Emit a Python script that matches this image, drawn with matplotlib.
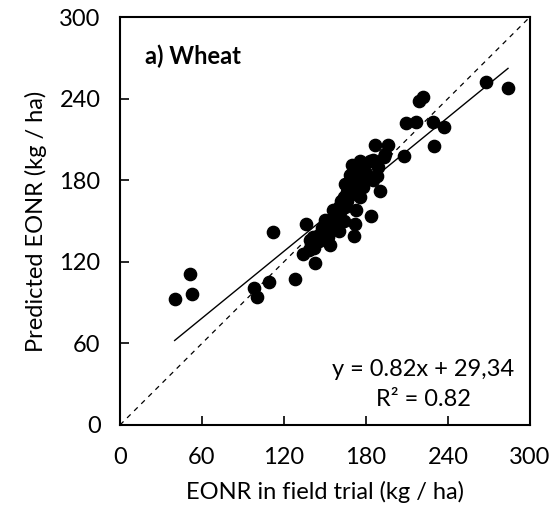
import numpy as np
import matplotlib
matplotlib.use("Agg")
import matplotlib.pyplot as plt

# ----------------------------
# Data
# ----------------------------
eonr_trial = [40, 53, 51, 98, 100, 109, 128, 112,
              134, 136, 143, 138, 139, 141, 154, 150, 160, 156, 162, 166,
              172, 180, 176, 173, 180, 185, 189, 178, 184, 172, 171, 190,
              170, 176, 183, 168, 165, 187, 196, 194, 193, 185, 188,
              140, 144, 146, 148, 150, 152, 154, 155, 157, 158, 160, 160,
              162, 163, 164, 165, 166, 167, 168, 170, 170, 172, 174, 176,
              178, 164, 158, 152, 146, 142,
              268, 284, 219, 222, 209, 217, 229, 237, 230, 208]
eonr_pred = [93, 96, 111, 101, 94, 105, 107, 142,
             126, 148, 119, 129, 136, 138, 132, 151, 143, 158, 165, 171,
             178, 180, 168, 158, 185, 180, 190, 190, 154, 148, 139, 172,
             191, 194, 194, 184, 177, 206, 206, 199, 197, 195, 183,
             132, 135, 140, 145, 141, 147, 150, 145, 152, 156, 150, 160,
             158, 163, 168, 160, 165, 173, 176, 170, 180, 185, 175, 181,
             175, 150, 148, 138, 135, 130,
             252, 248, 238, 241, 222, 223, 223, 219, 205, 198]

slope = 0.82
intercept = 29.34
ticks = [0, 60, 120, 180, 240, 300]

plt.rcParams['font.family'] = ['Lato', 'DejaVu Sans']
fs = 17

fig = plt.figure(figsize=(5.56, 5.25), dpi=100)
ax = fig.add_axes([0.2158, 0.1905, 0.7372, 0.7771])

# 1:1 line and fitted line
ax.plot([0, 300], [0, 300], color="black", linestyle=(0, (4, 4)), linewidth=0.9)
fit_x = np.array([min(eonr_trial), max(eonr_trial)])
ax.plot(fit_x, slope * fit_x + intercept, color="black", linewidth=1.0)

ax.scatter(eonr_trial, eonr_pred, s=78, color="black", zorder=3)

ax.set_xlim(0, 300)
ax.set_ylim(0, 300)
ax.set_xticks(ticks)
ax.set_yticks(ticks)
ax.tick_params(direction="in", length=6.5, width=1.2, labelsize=fs)
ax.tick_params(axis="y", pad=14)
ax.tick_params(axis="x", pad=16)
for s in ax.spines.values():
    s.set_linewidth(1.5)

ax.set_xlabel("EONR in field trial (kg / ha)", fontsize=fs, labelpad=9)
ax.set_ylabel("Predicted EONR (kg / ha)", fontsize=fs, labelpad=9)

ax.text(18, 271, "a) Wheat", fontsize=fs, fontweight="bold", va="center")
ax.text(222, 41, "y = 0.82x + 29,34", fontsize=fs, ha="center", va="center")
ax.text(222, 19, "R² = 0.82", fontsize=fs, ha="center", va="center")

fig.savefig("out.png", dpi=100)
